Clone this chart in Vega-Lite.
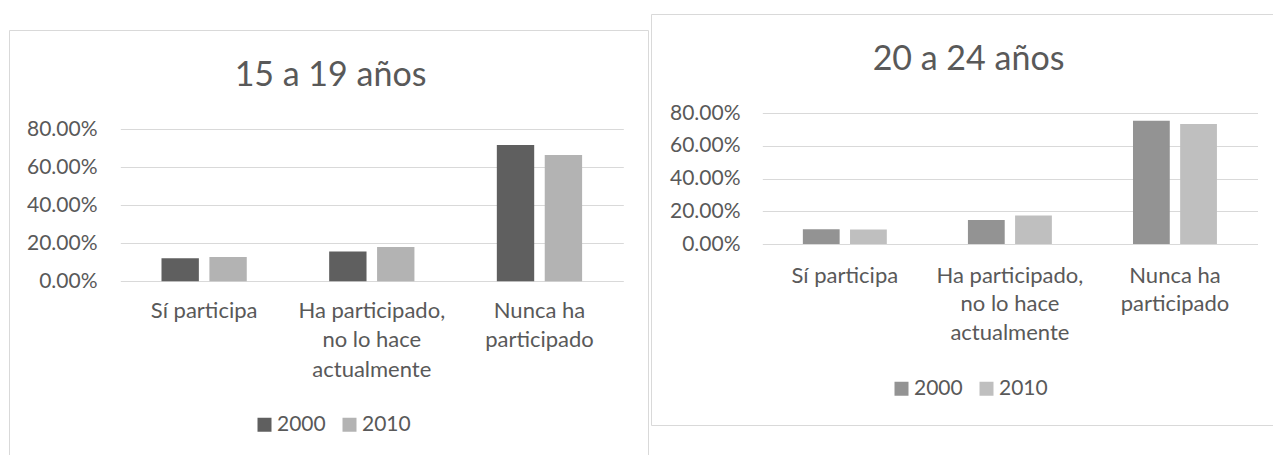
{
  "$schema": "https://vega.github.io/schema/vega-lite/v6.json",
  "padding": {"left": 8, "top": 13, "right": 0, "bottom": 0},
  "background": "white",
  "datasets": {
    "p1519": [
      {"cat": "Sí participa", "year": "2000", "value": 0.121},
      {"cat": "Sí participa", "year": "2010", "value": 0.127},
      {"cat": "Ha participado, no lo hace actualmente", "year": "2000", "value": 0.156},
      {"cat": "Ha participado, no lo hace actualmente", "year": "2010", "value": 0.180},
      {"cat": "Nunca ha participado", "year": "2000", "value": 0.717},
      {"cat": "Nunca ha participado", "year": "2010", "value": 0.665}
    ],
    "p2024": [
      {"cat": "Sí participa", "year": "2000", "value": 0.090},
      {"cat": "Sí participa", "year": "2010", "value": 0.088},
      {"cat": "Ha participado, no lo hace actualmente", "year": "2000", "value": 0.147},
      {"cat": "Ha participado, no lo hace actualmente", "year": "2010", "value": 0.175},
      {"cat": "Nunca ha participado", "year": "2000", "value": 0.754},
      {"cat": "Nunca ha participado", "year": "2010", "value": 0.734}
    ]
  },
  "concat": [
    {
      "concat": [
        {
          "width": 1,
          "height": 15,
          "data": {"values": []},
          "mark": {"type": "point"},
          "encoding": {},
          "view": {"stroke": null}
        },
        {
          "width": 639,
          "height": 426,
          "data": {"name": "p1519"},
          "title": {"text": "15 a 19 años", "fontSize": 34, "font": "Lato", "fontWeight": "normal", "color": "#595959", "offset": -90, "baseline": "alphabetic", "anchor": "middle", "dx": 2},
          "mark": {"type": "bar"},
          "encoding": {
            "x": {
              "field": "cat", "type": "nominal", "title": null,
              "sort": ["Sí participa", "Ha participado, no lo hace actualmente", "Nunca ha participado"],
              "scale": {"range": [111.3, 614.3], "paddingInner": 0, "paddingOuter": 0},
              "axis": {"orient": "bottom", "offset": -174.8, "labelPadding": 19, "labelAngle": 0, "labelAlign": "center", "labelBaseline": "top", "labelFontSize": 22, "labelLineHeight": 29.5, "labelLimit": 400, "domain": false, "ticks": false, "grid": false,
                "labelExpr": "datum.value === 'Ha participado, no lo hace actualmente' ? ['Ha participado,', 'no lo hace', 'actualmente'] : datum.value === 'Nunca ha participado' ? ['Nunca ha', 'participado'] : datum.value"}
            },
            "xOffset": {"field": "year", "type": "nominal", "scale": {"paddingInner": 0.22, "paddingOuter": 0.86}},
            "y": {
              "field": "value", "type": "quantitative", "title": null,
              "scale": {"domain": [0, 0.8], "range": [251.2, 99.3], "nice": false},
              "axis": {"values": [0, 0.2, 0.4, 0.6, 0.8], "format": ".2%", "offset": -88, "labelPadding": 0, "ticks": false, "tickSize": 0, "domain": false, "grid": true, "labelFontSize": 21}
            },
            "color": {
              "field": "year", "type": "nominal",
              "scale": {"domain": ["2000", "2010"], "range": ["#5f5f5f", "#b3b3b3"]},
              "legend": {"orient": "none", "legendX": 245, "legendY": 384, "direction": "horizontal", "title": null, "symbolType": "square", "symbolSize": 196, "symbolStrokeWidth": 0, "labelOffset": 2, "columnPadding": 13, "labelFontSize": 21, "labelColor": "#595959", "padding": 0}
            }
          }
        }
      ],
      "columns": 1,
      "spacing": 0,
      "align": "none",
      "bounds": "full",
      "resolve": {"scale": {"color": "independent"}, "legend": {"color": "independent"}}
    },
    {
      "width": 625,
      "height": 411,
      "data": {"name": "p2024"},
      "title": {"text": "20 a 24 años", "fontSize": 34, "font": "Lato", "fontWeight": "normal", "color": "#595959", "offset": -90, "baseline": "alphabetic", "anchor": "middle", "dx": 5},
      "mark": {"type": "bar"},
      "encoding": {
        "x": {
          "field": "cat", "type": "nominal", "title": null,
          "sort": ["Sí participa", "Ha participado, no lo hace actualmente", "Nunca ha participado"],
          "scale": {"range": [111.3, 606.5], "paddingInner": 0, "paddingOuter": 0},
          "axis": {"orient": "bottom", "offset": -181, "labelPadding": 21, "labelAngle": 0, "labelAlign": "center", "labelBaseline": "top", "labelFontSize": 22, "labelLineHeight": 28.5, "labelLimit": 400, "domain": false, "ticks": false, "grid": false,
            "labelExpr": "datum.value === 'Ha participado, no lo hace actualmente' ? ['Ha participado,', 'no lo hace', 'actualmente'] : datum.value === 'Nunca ha participado' ? ['Nunca ha', 'participado'] : datum.value"}
        },
        "xOffset": {"field": "year", "type": "nominal", "scale": {"paddingInner": 0.22, "paddingOuter": 0.86}},
        "y": {
          "field": "value", "type": "quantitative", "title": null,
          "scale": {"domain": [0, 0.8], "range": [230, 99.2], "nice": false},
          "axis": {"values": [0, 0.2, 0.4, 0.6, 0.8], "format": ".2%", "offset": -89, "labelPadding": 0, "ticks": false, "tickSize": 0, "domain": false, "grid": true, "labelFontSize": 21}
        },
        "color": {
          "field": "year", "type": "nominal",
          "scale": {"domain": ["2000", "2010"], "range": ["#939393", "#bfbfbf"]},
          "legend": {"orient": "none", "legendX": 240, "legendY": 364, "direction": "horizontal", "title": null, "symbolType": "square", "symbolSize": 196, "symbolStrokeWidth": 0, "labelOffset": 2, "columnPadding": 13, "labelFontSize": 21, "labelColor": "#595959", "padding": 0}
        }
      }
    }
  ],
  "columns": 2,
  "spacing": 1,
  "align": "none",
  "bounds": "full",
  "resolve": {
    "scale": {"color": "independent", "x": "independent", "y": "independent", "xOffset": "independent"},
    "legend": {"color": "independent"}
  },
  "config": {
    "font": "Lato",
    "view": {"stroke": "#d9d9d9", "strokeWidth": 1},
    "axis": {"labelFont": "Lato", "labelColor": "#595959", "gridColor": "#d9d9d9", "gridWidth": 1},
    "legend": {"labelFont": "Lato"}
  }
}
